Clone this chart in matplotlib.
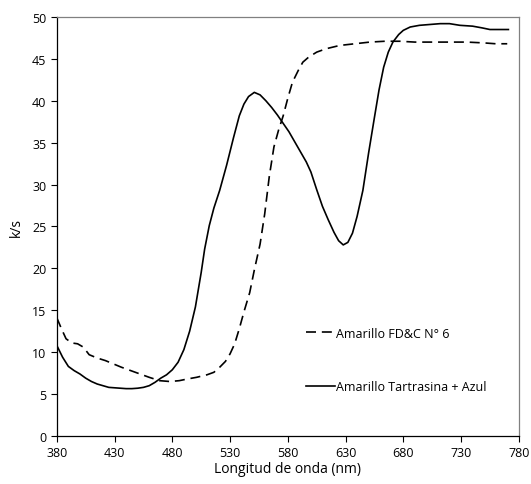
import matplotlib
matplotlib.use('Agg')
import matplotlib.pyplot as plt

plt.rcParams['font.family'] = ['Open Sans', 'DejaVu Sans']

# Amarillo FD&C N° 6 (dashed)
wl_fdc = [380, 384, 388, 393, 398, 403, 408, 415, 422, 429, 436, 444, 452, 460, 469, 478,
          486, 493, 501, 510, 516, 521, 526, 530, 534, 538, 542, 547, 551, 556, 560, 564,
          568, 572, 576, 580, 584, 589, 593, 598, 605, 613, 625, 638, 651, 664, 677, 690,
          705, 720, 735, 750, 760, 770]
ks_fdc = [14.1, 12.8, 11.6, 11.1, 11.0, 10.6, 9.7, 9.3, 9.0, 8.6, 8.2, 7.8, 7.4, 7.0, 6.6, 6.5,
          6.6, 6.8, 7.0, 7.3, 7.6, 8.2, 8.9, 9.8, 11.0, 12.8, 14.8, 17.1, 19.8, 22.9, 26.5, 31.0,
          34.5, 36.5, 38.2, 40.3, 42.2, 43.6, 44.6, 45.2, 45.8, 46.2, 46.6, 46.8, 47.0, 47.1, 47.1, 47.0,
          47.0, 47.0, 47.0, 46.9, 46.8, 46.8]

# Amarillo Tartrasina + Azul (solid)
wl_ta = [380, 385, 390, 395, 400, 405, 410, 415, 420, 425, 430, 435, 440, 445, 450, 455, 460,
         465, 470, 475, 480, 485, 490, 495, 500, 505, 508, 512, 516, 521, 527, 533, 538, 542,
         546, 551, 556, 561, 566, 571, 576, 581, 586, 591, 596, 600, 605, 610, 615, 620, 624,
         628, 632, 636, 640, 645, 650, 655, 659, 663, 667, 671, 676, 680, 686, 694, 703, 712,
         720, 729, 740, 748, 755, 762, 771]
ks_ta = [10.8, 9.4, 8.3, 7.8, 7.4, 6.9, 6.5, 6.2, 6.0, 5.8, 5.75, 5.7, 5.65, 5.65, 5.7, 5.8, 6.0,
         6.4, 6.9, 7.3, 7.9, 8.8, 10.3, 12.5, 15.4, 19.5, 22.3, 25.1, 27.2, 29.3, 32.3, 35.6, 38.2, 39.6,
         40.5, 41.0, 40.7, 40.0, 39.2, 38.3, 37.3, 36.3, 35.1, 33.9, 32.7, 31.5, 29.4, 27.4, 25.8, 24.3, 23.3,
         22.8, 23.1, 24.2, 26.2, 29.3, 33.8, 38.0, 41.3, 44.0, 45.8, 47.0, 47.9, 48.4, 48.8, 49.0, 49.1, 49.2,
         49.2, 49.0, 48.9, 48.7, 48.5, 48.5, 48.5]

x_ticks = list(range(380, 781, 50))
y_ticks = list(range(0, 51, 5))

fig = plt.figure(figsize=(5.31, 4.85), dpi=100)
ax = fig.add_axes([0.107, 0.099, 0.870, 0.864])

ax.plot(wl_fdc, ks_fdc, color='black', lw=1.2, linestyle=(0, (6, 3.5)),
        label='Amarillo FD&C N° 6')
ax.plot(wl_ta, ks_ta, color='black', lw=1.2, label='Amarillo Tartrasina + Azul')

ax.set_xlim(380, 780)
ax.set_ylim(0, 50)
ax.set_xticks(x_ticks)
ax.set_yticks(y_ticks)
ax.tick_params(labelsize=9, direction='out', length=4, width=0.8, colors='black')
ax.tick_params(axis='x', pad=3)

for side in ['left', 'bottom']:
    ax.spines[side].set_color('black')
    ax.spines[side].set_linewidth(0.9)
for side in ['top', 'right']:
    ax.spines[side].set_color('#808080')
    ax.spines[side].set_linewidth(0.9)

ax.set_xlabel('Longitud de onda (nm)', fontsize=10, labelpad=2)
ax.set_ylabel('k/s', fontsize=10, labelpad=6)

ax.legend(loc='lower left', bbox_to_anchor=(0.515, 0.075), frameon=False, fontsize=9,
          labelspacing=3.25, handlelength=2.3, handletextpad=0.1)

fig.savefig('out.png', dpi=100)
